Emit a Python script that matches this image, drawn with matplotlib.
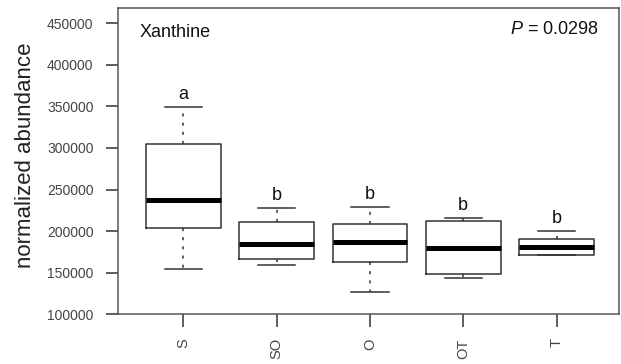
import matplotlib
matplotlib.use("Agg")
import matplotlib.pyplot as plt

plt.rcParams['font.family'] = ['Liberation Sans', 'DejaVu Sans']
plt.rcParams['mathtext.fontset'] = 'custom'
plt.rcParams['mathtext.it'] = 'Liberation Sans:italic'
plt.rcParams['mathtext.rm'] = 'Liberation Sans'

groups = ['S', 'SO', 'O', 'OT', 'T']
whisker_low = [154500, 158600, 126800, 143000, 171000]
q1 = [203200, 166200, 163000, 148200, 171000]
medians = [237300, 184300, 187000, 179100, 181000]
q3 = [304700, 211100, 208000, 212000, 190700]
whisker_high = [348900, 227300, 229200, 215200, 200300]
letters = ['a', 'b', 'b', 'b', 'b']
yticks = [100000, 150000, 200000, 250000, 300000, 350000, 400000, 450000]

line_col = '#333333'

stats = []
for i, g in enumerate(groups):
    stats.append(dict(label=g, med=medians[i], q1=q1[i], q3=q3[i],
                      whislo=whisker_low[i], whishi=whisker_high[i], fliers=[]))

fig = plt.figure(figsize=(6.21, 3.64), dpi=100)
ax = fig.add_axes([0.190, 0.137, 0.807, 0.840])

positions = list(range(1, len(groups) + 1))
ax.bxp(stats, positions=positions, widths=0.8, capwidths=0.4, showfliers=False,
       boxprops=dict(color=line_col, linewidth=1.1),
       medianprops=dict(color='black', linewidth=3.6, solid_capstyle='butt'),
       whiskerprops=dict(color=line_col, linewidth=1.1, linestyle=(0, (2, 4))),
       capprops=dict(color=line_col, linewidth=1.1))

for p, top, lab in zip(positions, whisker_high, letters):
    ax.annotate(lab, (p, top), xytext=(0, 3), textcoords='offset points',
                ha='center', va='bottom', fontsize=13, color='#111111')

ax.set_xlim(0.3, 5.67)
ax.set_ylim(100000, 468000)
ax.set_yticks(yticks)
ax.set_yticklabels([str(v) for v in yticks])
ax.set_xticks(positions)
ax.set_xticklabels(groups, rotation=90)
ax.tick_params(axis='y', length=8.6, width=1.1, color=line_col, pad=9, labelsize=10, labelcolor='#444444')
ax.tick_params(axis='x', length=9.3, width=1.1, color=line_col, pad=8, labelsize=10.5, labelcolor='#444444')
for s in ax.spines.values():
    s.set_color('#555555')
    s.set_linewidth(1.1)

ax.set_ylabel('normalized abundance', fontsize=16, color='#222222', va='center')
ax.yaxis.set_label_coords(-0.184, 0.52)

ax.text(0.044, 0.92, 'Xanthine', transform=ax.transAxes, fontsize=13, ha='left', va='center', color='#111111')
ax.text(0.96, 0.93, '$P$ = 0.0298', transform=ax.transAxes, fontsize=13, ha='right', va='center', color='#111111')

fig.savefig('out.png', dpi=100)
